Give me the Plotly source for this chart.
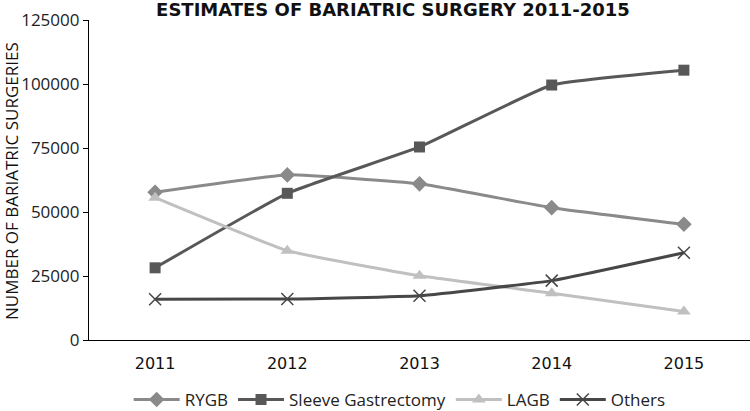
import plotly.graph_objects as go

years = ["2011", "2012", "2013", "2014", "2015"]
rygb = [57700, 64500, 61000, 51700, 45200]
sleeve = [28200, 57300, 75400, 99600, 105400]
lagb = [55600, 34900, 25100, 18300, 11100]
others = [15900, 16000, 17300, 23200, 34100]
y_ticks = [0, 25000, 50000, 75000, 100000, 125000]

series = [
    ("RYGB", rygb, "#8a8a8a", "diamond", 12),
    ("Sleeve Gastrectomy", sleeve, "#585858", "square", 11),
    ("LAGB", lagb, "#c0c0c0", "triangle-up", 12),
    ("Others", others, "#474747", "x-thin", 12),
]

fig = go.Figure()
for name, vals, col, sym, sz in series:
    marker = dict(symbol=sym, size=sz, color=col)
    if sym == "x-thin":
        marker["line"] = dict(color=col, width=1.5)
    fig.add_trace(go.Scatter(
        x=years, y=vals, name=name, mode="lines+markers",
        line=dict(color=col, width=3, shape="spline", smoothing=0.35),
        marker=marker,
    ))

font_main = "Open Sans, Noto Sans, sans-serif"
fig.update_layout(
    width=750, height=411,
    margin=dict(l=89, r=0, t=20, b=71, autoexpand=False),
    paper_bgcolor="white", plot_bgcolor="white",
    font=dict(family=font_main, color="#222222", size=13),
    title=dict(text="<b>ESTIMATES OF BARIATRIC SURGERY 2011-2015</b>",
               xref="container", yref="container",
               x=0.524, xanchor="center", y=0.976, yanchor="middle", automargin=False,
               font=dict(size=18, color="#111111", family="DejaVu Sans, sans-serif")),
    showlegend=True,
    legend=dict(orientation="h", x=0.47, xanchor="center", y=-0.1875, yanchor="middle",
                font=dict(size=17, color="#222222"), itemwidth=46, tracegroupgap=0),
    xaxis=dict(type="category", range=[-0.5, 4.5], showline=True, linecolor="#000000",
               linewidth=1.2, ticks="", showgrid=False, zeroline=False, automargin=False,
               ticklabelstandoff=9,
               tickfont=dict(size=16, color="#111111", family="DejaVu Sans, sans-serif")),
    yaxis=dict(range=[0, 125000], tickvals=y_ticks, ticktext=[str(v) for v in y_ticks],
               showline=True, linecolor="#000000", linewidth=1.2, ticks="outside",
               ticklen=5, tickcolor="#000000", showgrid=False, zeroline=False,
               automargin=False,
               tickfont=dict(size=17, color="#222222")),
    annotations=[dict(text="NUMBER OF BARIATRIC SURGERIES", xref="paper", yref="paper",
                      x=-0.1165, y=0.497, xanchor="center", yanchor="middle",
                      textangle=-90, showarrow=False,
                      font=dict(size=17, color="#111111", family=font_main))],
)

fig.write_html("out.html", config={"displayModeBar": False},
               post_script="document.body.style.margin='0';document.body.style.overflow='hidden';")
